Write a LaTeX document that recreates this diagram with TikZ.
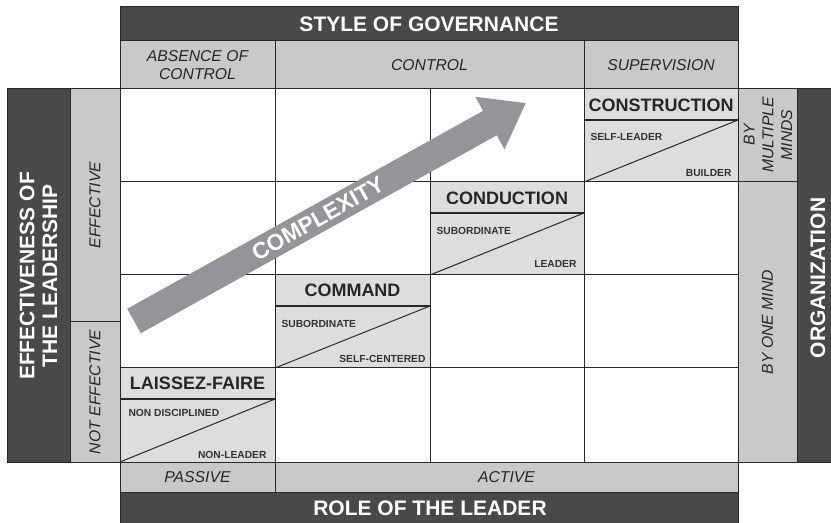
\documentclass[tikz,border=0pt]{standalone}
\usepackage{fontspec}
\setmainfont{Liberation Sans}
\usetikzlibrary{arrows.meta}

\definecolor{barDark}{RGB}{72,73,75}
\definecolor{headGray}{RGB}{200,201,203}
\definecolor{cellGray}{RGB}{220,221,223}
\definecolor{arrowGray}{RGB}{147,149,152}
\definecolor{ruleDark}{RGB}{40,40,40}

\tikzset{every picture/.style={line width=0.75pt}}
\tikzset{
  darkbar/.style={fill=barDark, draw=ruleDark},
  headcell/.style={fill=headGray, draw=ruleDark},
  stylecell/.style={fill=cellGray, draw=ruleDark},
  stripline/.style={draw=ruleDark, line width=1.2pt},
  bartext/.style={text=white, font=\fontsize{15.75}{17}\selectfont\bfseries, align=center, inner sep=0pt},
  headtext/.style={text=black!85, font=\fontsize{11.8}{14}\selectfont\itshape, align=center, inner sep=0pt},
  titletext/.style={text=black!85, font=\fontsize{13.5}{15}\selectfont\bfseries, inner sep=0pt},
  roletext/.style={text=black!80, font=\fontsize{7.7}{9}\selectfont\bfseries, inner sep=0pt},
  bigarrow/.style={draw=arrowGray, line width=21pt, -{Triangle[length=31pt,width=43pt,fill=arrowGray]}},
  arrowtext/.style={text=white, font=\fontsize{17}{19}\selectfont\bfseries, inner sep=0pt},
}

\begin{document}
\begin{tikzpicture}[x=0.75pt,y=0.75pt,yscale=-1,xscale=1]
\useasboundingbox (0,0) rectangle (831,523);

% Shape: Style of governance
\draw[darkbar] (120,7) rectangle (738,41);
\node[bartext] (governance) at (429,24) {STYLE OF GOVERNANCE};
\draw[headcell] (120,41) rectangle (275,89);
\draw[headcell] (275,41) rectangle (584,89);
\draw[headcell] (584,41) rectangle (738,89);
\node[headtext] (absence) at (197.5,65) {ABSENCE OF\\CONTROL};
\node[headtext] (control) at (429.5,65) {CONTROL};
\node[headtext] (supervision) at (661,65) {SUPERVISION};

% Shape: Role of the leader
\draw[headcell] (120,462) rectangle (275,492);
\draw[headcell] (275,462) rectangle (738,492);
\draw[darkbar] (120,492) rectangle (738,530);
\node[headtext] (passive) at (197.5,477) {PASSIVE};
\node[headtext] (active) at (506.5,477) {ACTIVE};
\node[bartext] (role) at (430,508) {ROLE OF THE LEADER};

% Shape: Effectiveness of the leadership
\draw[darkbar] (7,89) rectangle (70,462);
\draw[headcell] (70,89) rectangle (120,322);
\draw[headcell] (70,322) rectangle (120,462);
\node[bartext, rotate=90] (effectiveness) at (38.5,276) {EFFECTIVENESS OF\\THE LEADERSHIP};
\node[headtext, rotate=90] (effective) at (95,205) {EFFECTIVE};
\node[headtext, rotate=90] (noteffective) at (95,392) {NOT EFFECTIVE};

% Shape: Organization
\draw[headcell] (738,89) rectangle (797,182);
\draw[headcell] (738,182) rectangle (797,462);
\draw[darkbar] (797,89) rectangle (840,462);
\node[headtext, rotate=90, text width=80pt] (multiple) at (768,135) {BY\\MULTIPLE\\MINDS};
\node[headtext, rotate=90] (onemind) at (767.5,322) {BY ONE MIND};
\node[bartext, rotate=90] (organization) at (818,278) {ORGANIZATION};

% Grid
\draw[ruleDark] (120,89) rectangle (738,462);
\foreach \x in {275,430,584}
  \draw[ruleDark] (\x,89) -- (\x,462);
\foreach \y in {182,275,368}
  \draw[ruleDark] (120,\y) -- (738,\y);

% Text Node
\draw[stylecell] (120,368) rectangle (275,462);
\draw[stripline] (120,399) -- (275,399);
\draw[ruleDark] (120,462) -- (275,399);
\node[titletext] (laissez) at (197.5,383.5) {LAISSEZ-FAIRE};
\node[roletext, anchor=west] (nondisc) at (128,413) {NON DISCIPLINED};
\node[roletext, anchor=east] (nonleader) at (267,455) {NON-LEADER};

% Text Node
\draw[stylecell] (275,275) rectangle (430,368);
\draw[stripline] (275,306) -- (430,306);
\draw[ruleDark] (275,368) -- (430,306);
\node[titletext] (command) at (352.5,290.5) {COMMAND};
\node[roletext, anchor=west] (subcommand) at (281,324) {SUBORDINATE};
\node[roletext, anchor=east] (selfcentered) at (426,359) {SELF-CENTERED};

% Text Node
\draw[stylecell] (430,182) rectangle (584,275);
\draw[stripline] (430,213) -- (584,213);
\draw[ruleDark] (430,275) -- (584,213);
\node[titletext] (conduction) at (507,198) {CONDUCTION};
\node[roletext, anchor=west] (subconduction) at (436,231) {SUBORDINATE};
\node[roletext, anchor=east] (leader) at (577,264) {LEADER};

% Text Node
\draw[stylecell] (584,89) rectangle (738,182);
\draw[stripline] (584,120) -- (738,120);
\draw[ruleDark] (584,182) -- (738,120);
\node[titletext] (construction) at (661,105.5) {CONSTRUCTION};
\node[roletext, anchor=west] (selfleader) at (590,137) {SELF-LEADER};
\node[roletext, anchor=east] (builder) at (732,173) {BUILDER};

% Connection
\coordinate (tail) at (134,321);
\coordinate (tip) at (526,103);
\draw[bigarrow] (tail) -- (tip);
\node[arrowtext, rotate=29.1] (complexity) at (318,218.5) {COMPLEXITY};

\end{tikzpicture}
\end{document}
